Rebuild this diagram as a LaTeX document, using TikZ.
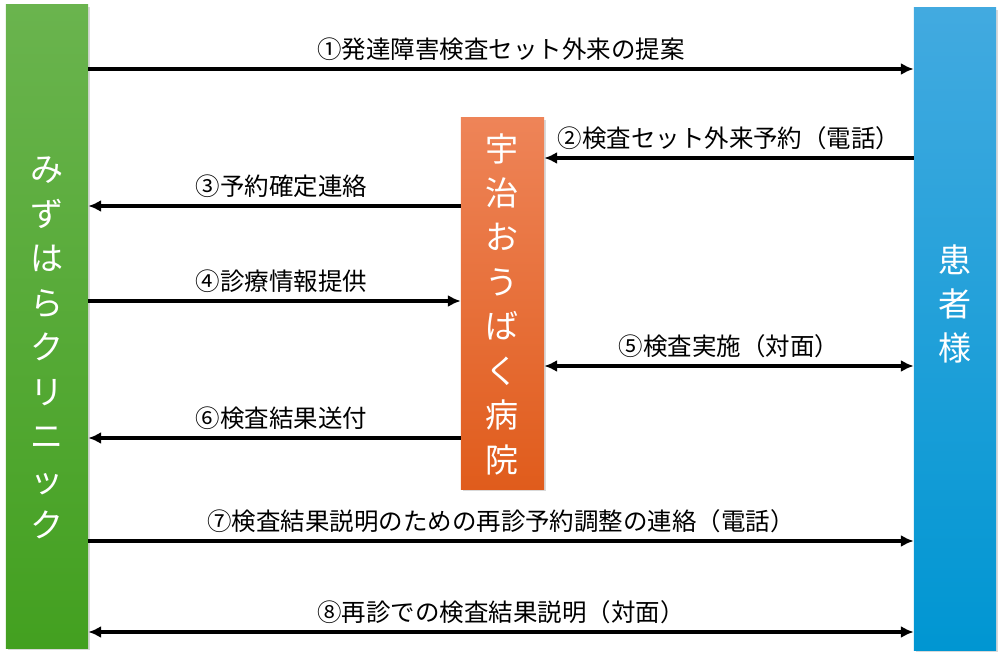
\documentclass[tikz,border=0pt]{standalone}
\usepackage{fontspec}
\setmainfont{Noto Sans CJK JP}
\usetikzlibrary{arrows.meta,shadows,positioning}

\definecolor{clinictop}{RGB}{106,180,78}
\definecolor{clinicbot}{RGB}{67,160,32}
\definecolor{hosptop}{RGB}{238,132,88}
\definecolor{hospbot}{RGB}{224,92,28}
\definecolor{patienttop}{RGB}{66,170,224}
\definecolor{patientbot}{RGB}{0,150,210}

\tikzstyle{party} = [rectangle, inner sep=0pt, minimum width=2.05cm,
    drop shadow={opacity=0.3, shadow xshift=1.2pt, shadow yshift=-1.2pt}]
\tikzstyle{vtext} = [text=white, align=center, font=\fontsize{23.5}{31.6}\selectfont]
\tikzstyle{msg} = [above=1.2pt, font=\fontsize{17.4}{20}\selectfont]
\tikzstyle{line} = [draw, line width=2.8pt, -{Latex[length=3.2mm,width=3mm]}]
\tikzstyle{both} = [draw, line width=2.8pt, {Latex[length=3.2mm,width=3mm]}-{Latex[length=3.2mm,width=3mm]}]

\begin{document}
\begin{tikzpicture}[x=0.025cm, y=-0.025cm]
	\useasboundingbox (0,0) rectangle (1001,656);

	\node [party, minimum height=16.075cm, top color=clinictop, bottom color=clinicbot] (clinic) at (47,326.5) {};
	\node [party, minimum width=2.075cm, minimum height=9.275cm, top color=hosptop, bottom color=hospbot] (hospital) at (502.5,303.5) {};
	\node [party, minimum height=16.05cm, top color=patienttop, bottom color=patientbot] (patient) at (955,329) {};

	\node [vtext] (clinicname) at (clinic |- 0,348) {み\\ず\\は\\ら\\ク\\リ\\ニ\\ッ\\ク};
	\node [vtext] (hospitalname) at (hospital |- 0,304) {宇\\治\\お\\う\\ば\\く\\病\\院};
	\node [vtext] (patientname) at (patient |- 0,304) {患\\者\\様};

	% message levels
	\coordinate (m1) at (0,69);
	\coordinate (m2) at (0,158);
	\coordinate (m3) at (0,206);
	\coordinate (m4) at (0,301);
	\coordinate (m5) at (0,366);
	\coordinate (m6) at (0,438);
	\coordinate (m7) at (0,541);
	\coordinate (m8) at (0,632);

	\path [line] (clinic.east |- m1) -- node[msg] {①発達障害検査セット外来の提案} (patient.west |- m1);
	\path [line] (patient.west |- m2) -- node[msg] {②検査セット外来予約（電話）} (hospital.east |- m2);
	\path [line] (hospital.west |- m3) -- node[msg, xshift=5pt] {③予約確定連絡} (clinic.east |- m3);
	\path [line] (clinic.east |- m4) -- node[msg, xshift=5pt] {④診療情報提供} (hospital.west |- m4);
	\path [both] (hospital.east |- m5) -- node[msg] {⑤検査実施（対面）} (patient.west |- m5);
	\path [line] (hospital.west |- m6) -- node[msg, xshift=5pt] {⑥検査結果送付} (clinic.east |- m6);
	\path [line] (clinic.east |- m7) -- node[msg] {⑦検査結果説明のための再診予約調整の連絡（電話）} (patient.west |- m7);
	\path [both] (clinic.east |- m8) -- node[msg] {⑧再診での検査結果説明（対面）} (patient.west |- m8);
\end{tikzpicture}
\end{document}
